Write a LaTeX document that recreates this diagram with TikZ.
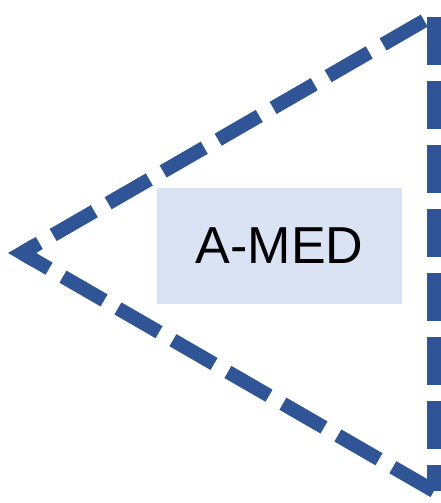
\documentclass[tikz,border=0pt]{standalone}
\usepackage{fontspec}
\setmainfont{Liberation Sans}
\usetikzlibrary{calc}
\definecolor{edgeblue}{HTML}{2F5597}
\definecolor{boxfill}{HTML}{DAE3F3}
\tikzset{
  side/.style={draw=edgeblue, line width=14pt, line cap=butt},
  corner/.style={draw=edgeblue, line width=14pt, line join=miter, line cap=butt},
  label/.style={fill=boxfill, minimum width=245pt, minimum height=116pt, inner sep=0pt, font=\fontsize{52}{60}\selectfont}
}
\begin{document}
\begin{tikzpicture}[x=1pt,y=-1pt]
\useasboundingbox (0,0) rectangle (440,503);
\coordinate (L) at (22,253);
\coordinate (T) at (434,15);
\coordinate (B) at (434,491);
\node[label] (box) at (279.5,246) {A-MED};
% vertical side
\draw[side, dash pattern=on 48pt off 16pt, dash phase=62pt] (T) -- (B);
% lower side
\draw[side, dash pattern=on 47.5pt off 16pt, dash phase=0pt] (B) -- (L);
% upper side
\draw[side, dash pattern=on 47.5pt off 16pt, dash phase=27.5pt] (L) -- (T);
% left tip
\draw[corner] ($(L)!15pt!(T)$) -- (L) -- ($(L)!15pt!(B)$);
\end{tikzpicture}
\end{document}
